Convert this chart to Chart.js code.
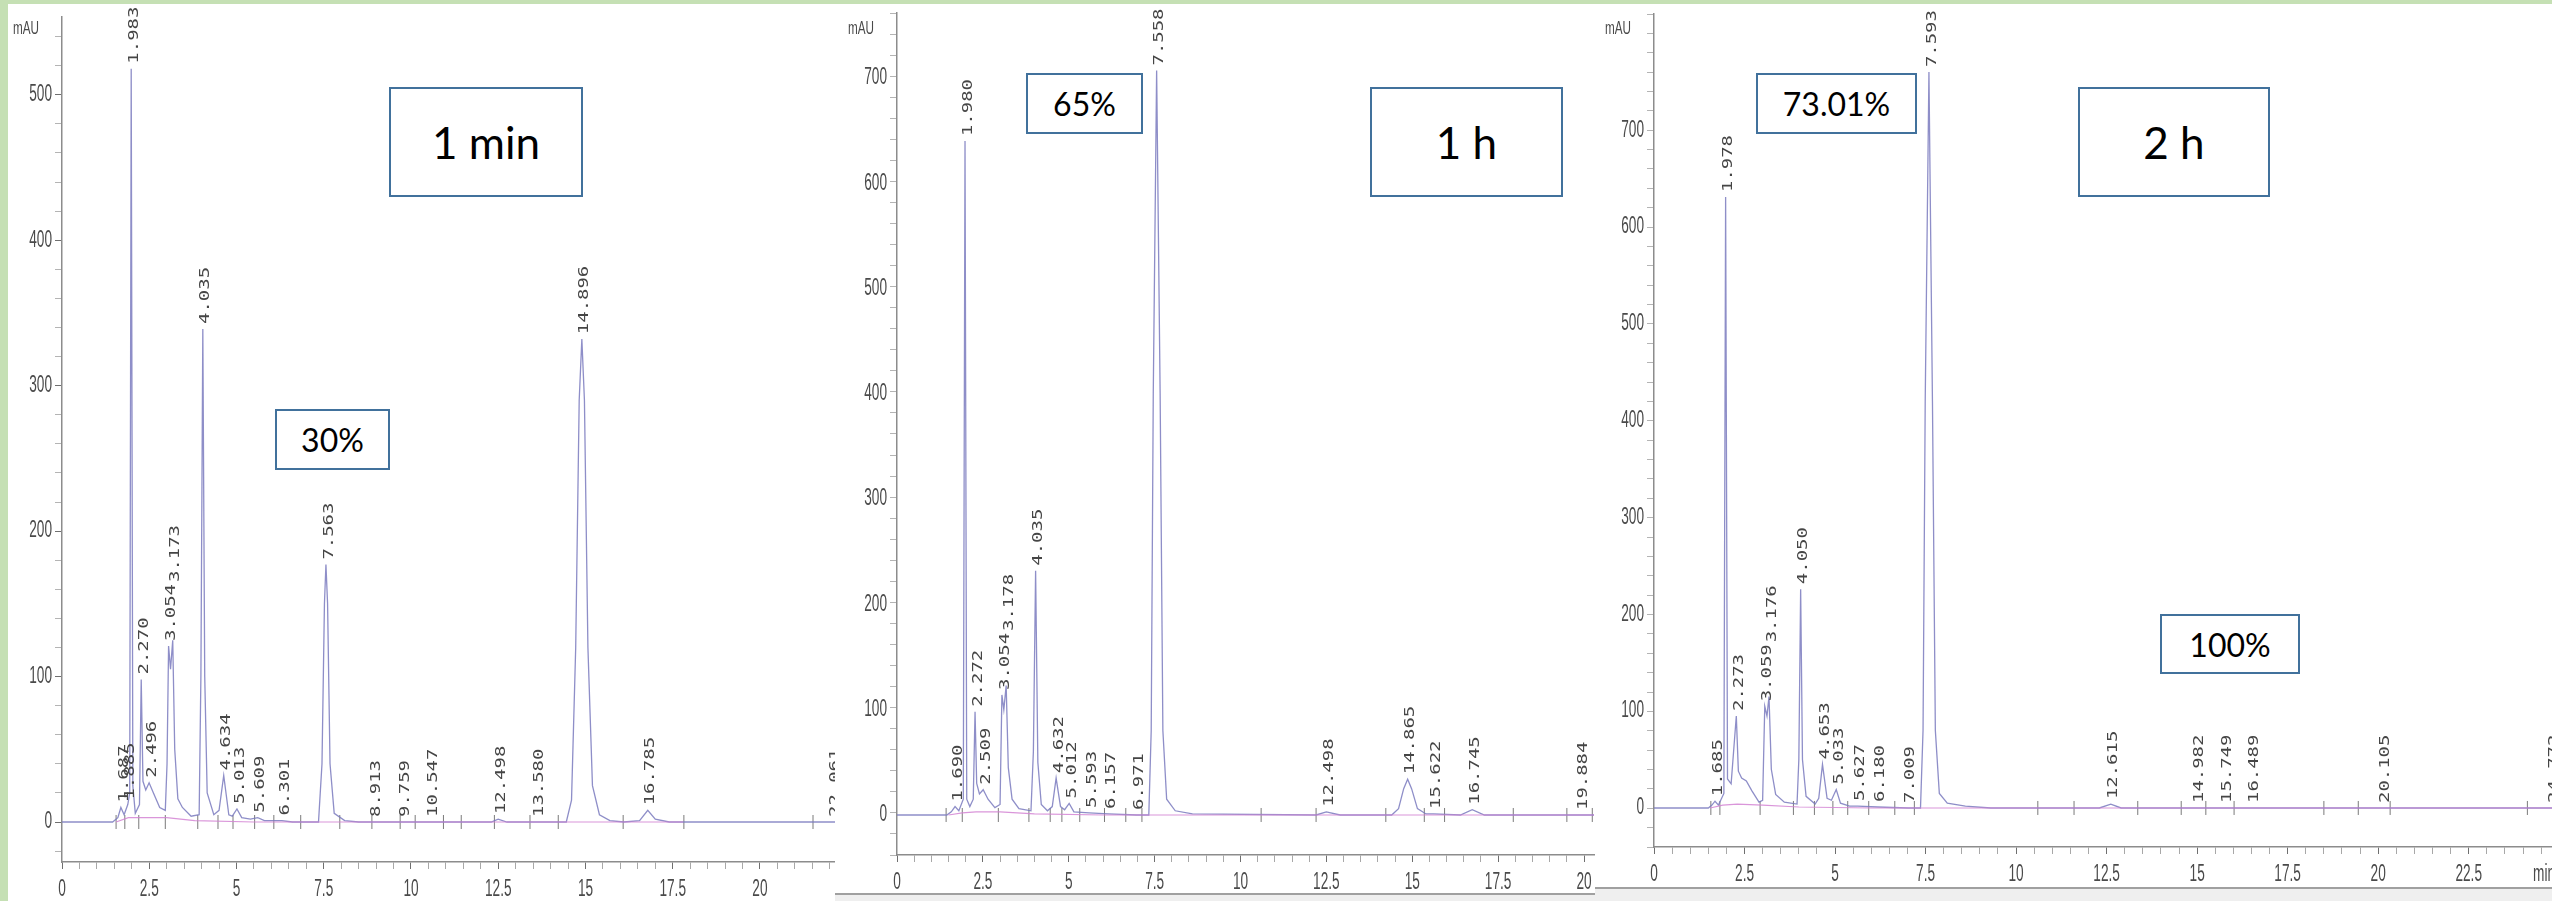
<!DOCTYPE html>
<html>
<head>
<meta charset="utf-8">
<title>HPLC chromatograms</title>
<script src="https://cdn.jsdelivr.net/npm/chart.js@4.4.1/dist/chart.umd.min.js"></script>
<style>
  html, body { margin: 0; padding: 0; }
  body { width: 2552px; height: 901px; background: #c5e0b4; position: relative; overflow: hidden; }
  .panel { position: absolute; background: #fff; }
  .panel canvas { display: block; }
  .tag {
    position: absolute; box-sizing: border-box; border: 2px solid #41719c; background: #fff;
    display: flex; align-items: center; justify-content: center;
    font-family: Lato, "Open Sans", sans-serif; color: #000;
  }
  .edge  { position: absolute; height: 2px; background: #a0a0a0; }
  .shade { position: absolute; background: #efefef; }
</style>
</head>
<body>

<div class="panel" style="left:8px;top:4px;width:827px;height:897px;"><canvas id="c1" width="827" height="897"></canvas></div>
<div class="panel" style="left:835px;top:4px;width:760px;height:889px;"><canvas id="c2" width="760" height="889"></canvas></div>
<div class="panel" style="left:1595px;top:4px;width:957px;height:883px;"><canvas id="c3" width="957" height="883"></canvas></div>

<div class="edge"  style="left:835px;top:893px;width:760px;"></div>
<div class="shade" style="left:835px;top:895px;width:760px;height:6px;"></div>
<div class="edge"  style="left:1595px;top:887px;width:957px;"></div>
<div class="shade" style="left:1595px;top:889px;width:957px;height:12px;"></div>

<div class="tag" style="left:389px;top:87px;width:194px;height:110px;font-size:44px;">1 min</div>
<div class="tag" style="left:275px;top:409px;width:115px;height:61px;font-size:32px;">30%</div>
<div class="tag" style="left:1026px;top:73px;width:117px;height:61px;font-size:32px;">65%</div>
<div class="tag" style="left:1370px;top:87px;width:193px;height:110px;font-size:44px;">1 h</div>
<div class="tag" style="left:1756px;top:73px;width:161px;height:61px;font-size:32px;">73.01%</div>
<div class="tag" style="left:2078px;top:87px;width:192px;height:110px;font-size:44px;">2 h</div>
<div class="tag" style="left:2160px;top:614px;width:140px;height:60px;font-size:32px;">100%</div>

<script>
// ─────────────────────────────────────────────
// Data (time in min, signal in mAU)
// ─────────────────────────────────────────────

// Panel 1 — 1 min
const p1Time = [
  0, 1.45, 1.60, 1.687, 1.78, 1.885, 1.94, 1.983, 2.03, 2.10,
  2.22, 2.270, 2.32, 2.40, 2.496, 2.62, 2.80, 2.96, 3.01, 3.054,
  3.11, 3.173, 3.23, 3.32, 3.45, 3.70, 3.93, 3.98, 4.035, 4.09,
  4.16, 4.35, 4.50, 4.634, 4.78, 4.88, 5.013, 5.15, 5.40, 5.609,
  5.80, 6.301, 6.60, 7.35, 7.45, 7.52, 7.563, 7.61, 7.68, 7.80,
  8.10, 8.50, 12.30, 12.498, 12.75, 14.45, 14.60, 14.72, 14.82, 14.896,
  14.97, 15.07, 15.20, 15.40, 15.70, 16.10, 16.55, 16.785, 17.00, 17.40,
  22.2
];
const p1Signal = [
  0, 0, 3, 10, 5, 12, 20, 518, 25, 6,
  12, 98, 28, 22, 27, 20, 10, 8, 40, 121,
  105, 125, 50, 16, 10, 4, 5, 100, 339, 100,
  20, 5, 8, 32, 5, 4, 9, 3, 2, 3,
  1, 1, 0, 0, 40, 150, 177, 150, 40, 6,
  1, 0, 0, 2, 0, 0, 15, 120, 290, 332,
  290, 120, 25, 5, 1, 0, 1, 8, 2, 0,
  0
];
const p1BaseTime   = [1.55, 1.90, 2.30, 3.00, 3.80, 5.50, 17.80];
const p1BaseSignal = [0, 3, 3, 3, 1, 0, 0];
const p1PeakTimes   = [1.687, 1.885, 1.983, 2.270, 2.496, 3.054, 3.173, 4.035, 4.634, 5.013, 5.609, 6.301, 7.563, 8.913, 9.759, 10.547, 12.498, 13.580, 14.896, 16.785, 22.061];
const p1PeakHeights = [10, 12, 518, 98, 27, 121, 125, 339, 32, 9, 3, 1, 177, 0, 0, 0, 2, 0, 332, 8, 0];
const p1Marks = [1.55, 1.80, 2.20, 2.96, 3.89, 4.47, 4.90, 5.52, 6.07, 6.84, 7.96, 8.88, 9.69, 10.12, 10.93, 11.44, 12.39, 13.41, 14.22, 16.08, 17.82, 21.52];
const p1YLabels = [0, 100, 200, 300, 400, 500];
const p1XLabels = [0, 2.5, 5, 7.5, 10, 12.5, 15, 17.5, 20];

// Panel 2 — 1 h
const p2Time = [
  0, 1.45, 1.58, 1.690, 1.80, 1.93, 1.980, 2.03, 2.12, 2.22,
  2.272, 2.32, 2.40, 2.509, 2.65, 2.85, 3.00, 3.054, 3.11, 3.178,
  3.24, 3.35, 3.55, 3.90, 3.97, 4.035, 4.10, 4.20, 4.38, 4.52,
  4.632, 4.76, 4.88, 5.012, 5.15, 5.593, 6.157, 6.971, 7.33, 7.40,
  7.46, 7.558, 7.66, 7.74, 7.85, 8.10, 8.60, 12.20, 12.498, 12.90,
  14.40, 14.60, 14.75, 14.865, 14.98, 15.15, 15.40, 15.622, 16.40, 16.745,
  17.10, 20.3
];
const p2Signal = [
  0, 0, 3, 8, 4, 15, 640, 15, 8, 15,
  98, 30, 20, 24, 15, 7, 10, 114, 100, 123,
  45, 15, 6, 4, 60, 232, 50, 10, 4, 8,
  35, 8, 5, 11, 3, 2, 1, 0, 0, 80,
  400, 707, 400, 80, 15, 4, 1, 0, 3, 0,
  0, 6, 25, 34, 25, 6, 1, 1, 0, 5,
  0, 0
];
const p2BaseTime   = [1.50, 1.90, 2.30, 3.00, 4.00, 6.00, 20.3];
const p2BaseSignal = [0, 2, 3, 3, 1, 0, 0];
const p2PeakTimes   = [1.690, 1.980, 2.272, 2.509, 3.054, 3.178, 4.035, 4.632, 5.012, 5.593, 6.157, 6.971, 7.558, 12.498, 14.865, 15.622, 16.745, 19.884];
const p2PeakHeights = [8, 640, 98, 24, 114, 123, 232, 35, 11, 2, 1, 0, 707, 3, 34, 1, 5, 0];
const p2Marks = [1.43, 1.90, 2.95, 3.84, 4.46, 4.80, 5.32, 6.04, 6.66, 7.13, 10.6, 12.2, 14.23, 15.35, 15.94, 17.94, 19.50, 20.24];
const p2YLabels = [0, 100, 200, 300, 400, 500, 600, 700];
const p2XLabels = [0, 2.5, 5, 7.5, 10, 12.5, 15, 17.5, 20];

// Panel 3 — 2 h
const p3Time = [
  0, 1.50, 1.60, 1.685, 1.78, 1.93, 1.978, 2.03, 2.13, 2.273,
  2.33, 2.42, 2.55, 2.70, 2.90, 3.00, 3.059, 3.12, 3.176, 3.24,
  3.36, 3.60, 3.95, 4.00, 4.050, 4.10, 4.20, 4.45, 4.55, 4.653,
  4.78, 4.90, 5.033, 5.15, 5.40, 5.627, 6.180, 7.009, 7.36, 7.43,
  7.49, 7.593, 7.69, 7.77, 7.88, 8.10, 8.60, 9.30, 12.30, 12.615,
  12.90, 24.8
];
const p3Signal = [
  0, 0, 3, 7, 3, 15, 631, 30, 25, 95,
  38, 31, 28, 18, 6, 8, 105, 95, 115, 40,
  14, 6, 4, 50, 226, 50, 12, 4, 10, 45,
  10, 8, 19, 5, 2, 2, 1, 0, 0, 80,
  420, 760, 420, 80, 15, 5, 2, 0, 0, 4,
  0, 0
];
const p3BaseTime   = [1.55, 1.90, 2.30, 3.00, 4.00, 6.00, 24.8];
const p3BaseSignal = [0, 3, 4, 3, 1, 0, 0];
const p3PeakTimes   = [1.685, 1.978, 2.273, 3.059, 3.176, 4.050, 4.653, 5.033, 5.627, 6.180, 7.009, 7.593, 12.615, 14.982, 15.749, 16.489, 20.105, 24.772];
const p3PeakHeights = [7, 631, 95, 105, 115, 226, 45, 19, 2, 1, 0, 760, 4, 0, 0, 0, 0, 0];
const p3Marks = [1.57, 1.82, 2.93, 3.85, 4.43, 4.94, 5.35, 5.93, 6.65, 7.19, 10.6, 11.6, 13.36, 14.56, 15.24, 16.02, 18.5, 19.45, 20.33, 24.12];
const p3YLabels = [0, 100, 200, 300, 400, 500, 600, 700];
const p3XLabels = [0, 2.5, 5, 7.5, 10, 12.5, 15, 17.5, 20, 22.5];

// ─────────────────────────────────────────────
// Styling
// ─────────────────────────────────────────────
const TRACE_COLOR = "rgba(122,122,190,0.85)";
const BASE_COLOR  = "rgba(212,132,212,0.85)";
const AXIS_COLOR  = "#8c8c8c";
const TEXT_COLOR  = "#4a4a4a";
const LABEL_ADVANCE = 11.4;   // px per character of the rotated peak labels
const TICK_DIGIT    = 7.6;    // px per digit of the squeezed axis numbers

const pairs = (xs, ys) => xs.slice(0, Math.min(xs.length, ys.length)).map((x, i) => ({ x, y: ys[i] }));

// Rotated retention-time labels above each peak
function peakLabels(times, heights) {
  return {
    id: "peakLabels",
    afterDatasetsDraw(chart) {
      const { ctx, scales: { x, y } } = chart;
      ctx.save();
      ctx.font = '14px "DejaVu Sans Mono", "Liberation Mono", monospace';
      ctx.fillStyle = "#454545";
      ctx.textBaseline = "middle";
      ctx.textAlign = "left";
      const sx = LABEL_ADVANCE / ctx.measureText("0").width;
      let prev = null;
      times.forEach((t, i) => {
        const text = t.toFixed(3);
        const len = ctx.measureText(text).width * sx;
        const px = x.getPixelForValue(t) + 3;
        let bottom = y.getPixelForValue(heights[i]) - 5;
        // stack labels of peaks sitting almost on top of each other
        if (prev && px - prev.px < 5 && bottom > prev.top - 2) bottom = prev.top - 2;
        ctx.save();
        ctx.translate(px, bottom);
        ctx.rotate(-Math.PI / 2);
        ctx.scale(sx, 1);
        ctx.fillText(text, 0, 0);
        ctx.restore();
        prev = { px, top: bottom - len };
      });
      ctx.restore();
    }
  };
}

// Narrow ChemStation-style axis numbers, "mAU" and "min"
function axisText(yLabels, xLabels, withUnit) {
  return {
    id: "axisText",
    afterDraw(chart) {
      const { ctx, chartArea: a, scales: { x, y } } = chart;
      ctx.save();
      ctx.fillStyle = TEXT_COLOR;
      ctx.textBaseline = "middle";
      ctx.font = '23px "Liberation Sans Narrow", "Liberation Sans", sans-serif';
      const sx = TICK_DIGIT / ctx.measureText("0").width;
      const put = (s, px, py, align, k) => {
        ctx.save();
        ctx.translate(px, py);
        ctx.scale(k, 1);
        ctx.textAlign = align;
        ctx.fillText(s, 0, 0);
        ctx.restore();
      };
      yLabels.forEach(v => put(String(v), a.left - 10, y.getPixelForValue(v), "right", sx));
      xLabels.forEach(v => put(String(v), x.getPixelForValue(v), a.bottom + 28, "center", sx));
      if (withUnit) put("min", a.right - 19, a.bottom + 28, "left", sx);

      ctx.font = '18px "Liberation Sans Narrow", "Liberation Sans", sans-serif';
      const su = 26 / ctx.measureText("mAU").width;
      put("mAU", a.left - 36, 25, "center", su);
      ctx.restore();
    }
  };
}

function drawPanel(id, p) {
  return new Chart(document.getElementById(id), {
    type: "scatter",
    data: {
      datasets: [
        { data: pairs(p.baseTime, p.baseSignal), showLine: true, borderColor: BASE_COLOR, borderWidth: 1.2, pointRadius: 0 },
        { data: pairs(p.time, p.signal), showLine: true, borderColor: TRACE_COLOR, borderWidth: 1.3, pointRadius: 0 },
        {
          data: p.marks.map(t => ({ x: t, y: 0 })),
          showLine: false,
          pointStyle: "line", pointRadius: 7, pointRotation: 90,
          borderColor: "#7a7a7a", pointBorderColor: "#7a7a7a", pointBorderWidth: 1
        }
      ]
    },
    options: {
      responsive: false,
      animation: false,
      devicePixelRatio: 1,
      events: [],
      layout: { autoPadding: false, padding: { top: p.padTop, right: p.padRight, left: 0, bottom: 0 } },
      plugins: { legend: { display: false }, tooltip: { enabled: false } },
      scales: {
        x: {
          type: "linear", min: 0, max: p.xMax,
          afterFit: s => { s.height = p.xAxisH; s.paddingLeft = 0; s.paddingRight = 0; },
          ticks: { display: false, stepSize: 0.5, includeBounds: false, autoSkip: false },
          grid: {
            drawOnChartArea: false, drawTicks: true, tickLength: 7,
            tickColor: c => (Math.abs(c.tick.value % 2.5) < 1e-6 ? "#6f6f6f" : "#a8a8a8")
          },
          border: { display: true, color: AXIS_COLOR, width: 1.5 }
        },
        y: {
          type: "linear", min: p.yMin, max: p.yMax,
          afterFit: s => { s.width = p.yAxisW; s.paddingTop = 0; s.paddingBottom = 0; },
          ticks: { display: false, stepSize: 20, includeBounds: false },
          grid: {
            drawOnChartArea: false, drawTicks: true, tickLength: 7,
            tickColor: c => (c.tick.value % 100 === 0 ? "#6f6f6f" : "#b4b4b4")
          },
          border: { display: true, color: AXIS_COLOR, width: 1.5 }
        }
      }
    },
    plugins: [peakLabels(p.peakTimes, p.peakHeights), axisText(p.yLabels, p.xLabels, p.unit)]
  });
}

drawPanel("c1", {
  time: p1Time, signal: p1Signal, baseTime: p1BaseTime, baseSignal: p1BaseSignal,
  peakTimes: p1PeakTimes, peakHeights: p1PeakHeights, marks: p1Marks,
  yLabels: p1YLabels, xLabels: p1XLabels, unit: false,
  xMax: 22.15, yMin: -27.5, yMax: 553.5,
  yAxisW: 54, xAxisH: 39, padTop: 13, padRight: 0
});

drawPanel("c2", {
  time: p2Time, signal: p2Signal, baseTime: p2BaseTime, baseSignal: p2BaseSignal,
  peakTimes: p2PeakTimes, peakHeights: p2PeakHeights, marks: p2Marks,
  yLabels: p2YLabels, xLabels: p2XLabels, unit: false,
  xMax: 20.29, yMin: -38, yMax: 761.6,
  yAxisW: 62, xAxisH: 38, padTop: 9, padRight: 1
});

drawPanel("c3", {
  time: p3Time, signal: p3Signal, baseTime: p3BaseTime, baseSignal: p3BaseSignal,
  peakTimes: p3PeakTimes, peakHeights: p3PeakHeights, marks: p3Marks,
  yLabels: p3YLabels, xLabels: p3XLabels, unit: true,
  xMax: 24.8, yMin: -40.3, yMax: 820,
  yAxisW: 59, xAxisH: 40, padTop: 10, padRight: 0
});
</script>
</body>
</html>
